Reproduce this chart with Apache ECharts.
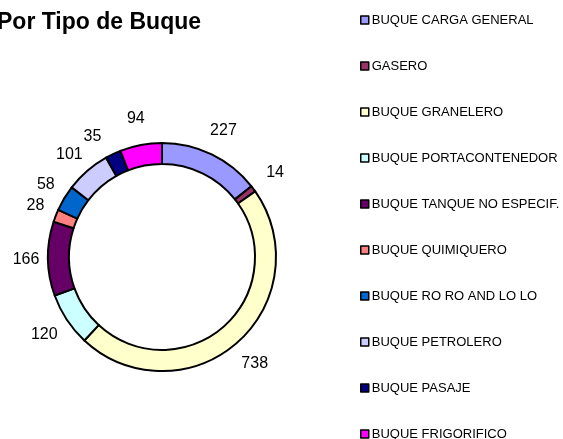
<!DOCTYPE html>
<html>
<head>
<meta charset="utf-8">
<script src="https://cdn.jsdelivr.net/npm/echarts@6/dist/echarts.min.js"></script>
<style>
  html, body { margin: 0; padding: 0; background: #fff; }
  #chart { width: 563px; height: 439px; }
</style>
</head>
<body>
<div id="chart"></div>
<script>
// tipos de buque y cantidades
const tipos = [
  'BUQUE CARGA GENERAL',
  'GASERO',
  'BUQUE GRANELERO',
  'BUQUE PORTACONTENEDOR',
  'BUQUE TANQUE NO ESPECIF.',
  'BUQUE QUIMIQUERO',
  'BUQUE RO RO AND LO LO',
  'BUQUE PETROLERO',
  'BUQUE PASAJE',
  'BUQUE FRIGORIFICO'
];
const cantidades = [227, 14, 738, 120, 166, 28, 58, 101, 35, 94];
const colores = ['#9999FF', '#993366', '#FFFFCC', '#CCFFFF', '#660066',
  '#FF8080', '#0066CC', '#CCCCFF', '#000080', '#FF00FF'];

const chart = echarts.init(document.getElementById('chart'));

const option = {
  animation: false,
  textStyle: { fontFamily: 'Liberation Sans, Arial, sans-serif' },
  title: {
    text: 'Por Tipo de Buque',
    left: -3,
    top: 11,
    padding: 0,
    textStyle: { fontSize: 23, fontWeight: 'bold', color: '#000' }
  },
  legend: {
    orient: 'vertical',
    left: 360,
    top: 13,
    height: 700,
    padding: 0,
    icon: 'rect',
    itemWidth: 8,
    itemHeight: 8,
    itemGap: 32,
    itemStyle: { borderColor: '#000', borderWidth: 1.5 },
    textStyle: { fontSize: 13, color: '#000', lineHeight: 14, padding: [0, 0, 0, -2] },
    data: tipos
  },
  series: [{
    type: 'pie',
    center: [162, 257],
    radius: [93, 114],
    startAngle: 90,
    clockwise: true,
    silent: true,
    itemStyle: { borderColor: '#000', borderWidth: 2 },
    label: {
      show: true,
      position: 'outside',
      fontSize: 16,
      color: '#000',
      overflow: 'none',
      formatter: '{c}'
    },
    labelLine: {
      show: true,
      length: 27,
      length2: 0,
      lineStyle: { opacity: 0 }
    },
    labelLayout: function (params) {
      const p = params.labelLinePoints;
      if (!p) return {};
      return { x: p[1][0], y: p[1][1], align: 'center', verticalAlign: 'middle' };
    },
    data: tipos.map((t, i) => ({
      name: t,
      value: cantidades[i],
      itemStyle: { color: colores[i] }
    }))
  }]
};

chart.setOption(option);
</script>
</body>
</html>
